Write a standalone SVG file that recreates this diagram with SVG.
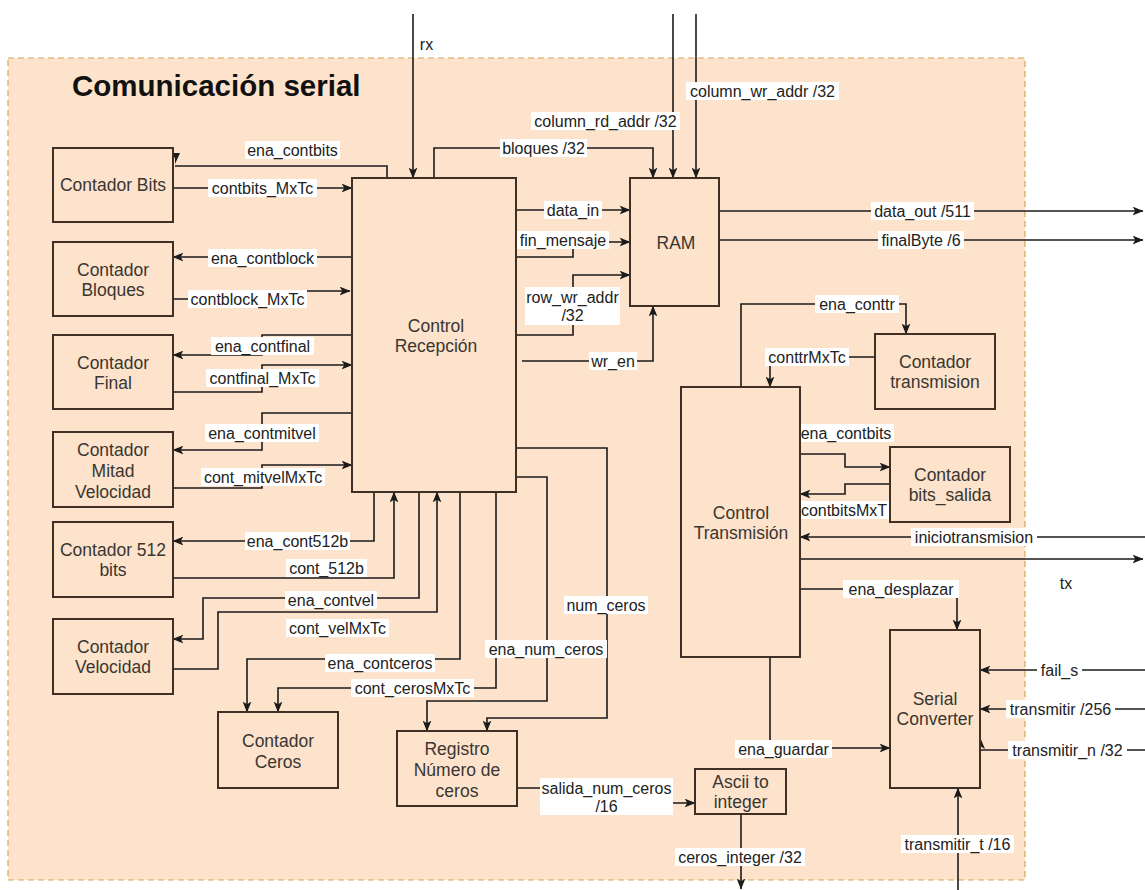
<svg xmlns="http://www.w3.org/2000/svg" width="1145" height="890" viewBox="0 0 1145 890">
  <style>
    .frame { fill: #fde3cb; stroke: #d4a75e; stroke-width: 1.2; stroke-dasharray: 6 4; }
    .title { font-family: "Liberation Sans", Arial, sans-serif; font-size: 29.5px; font-weight: bold; fill: #111; }
    .blk rect { fill: #fde3cb; stroke: #3f2f24; stroke-width: 2; }
    .blk text { font-family: "Liberation Sans", Arial, sans-serif; font-size: 17.5px; fill: #3a3632; text-anchor: middle; }
    .wire { fill: none; stroke: #1b1b1b; stroke-width: 1.6; }
    .arrow { marker-end: url(#ah); }
    .lbl rect { fill: #ffffff; }
    .lbl text { font-family: "Liberation Sans", Arial, sans-serif; font-size: 16px; fill: #222; text-anchor: middle; }
    .tip { fill: #1b1b1b; }
  </style>
  <defs>
    <marker id="ah" viewBox="0 0 10 8" refX="9.5" refY="4" markerWidth="11" markerHeight="9" markerUnits="userSpaceOnUse" orient="auto">
      <path d="M0,0 L10,4 L0,8 L2.5,4 z" fill="#1b1b1b"/>
    </marker>
  </defs>

  <rect width="1145" height="890" fill="#ffffff"/>

  <!-- subsystem frame -->
  <g id="frame">
    <rect class="frame" x="8" y="58" width="1017" height="822"/>
    <text class="title" x="72" y="96">Comunicación serial</text>
  </g>

  <!-- connectors -->
  <g id="connectors">
    <path class="wire arrow" d="M413,14 V178"/>
    <path class="wire arrow" d="M673,14 V178"/>
    <path class="wire arrow" d="M696,14 V178"/>
    <path class="wire arrow" d="M434,178 V148 H653 V178"/>
    <path class="wire arrow" d="M516,210 H630"/>
    <path class="wire arrow" d="M516,257 H573 V242 H630"/>
    <path class="wire arrow" d="M516,335 H573 V275 H630"/>
    <path class="wire arrow" d="M522,361 H653 V306"/>
    <path class="wire arrow" d="M719,211 H1143"/>
    <path class="wire arrow" d="M719,240 H1143"/>

    <path class="wire" d="M387,178 V166 H175"/>
    <polygon class="tip" points="170,153 180,153 175,164 175,158"/>
    <path class="wire arrow" d="M173,188 H352"/>
    <path class="wire arrow" d="M352,257 H173"/>
    <path class="wire arrow" d="M173,299 H300 V291 H350"/>
    <path class="wire arrow" d="M352,335 H262 V355 H173"/>
    <path class="wire arrow" d="M173,392 H262 V365 H352"/>
    <path class="wire arrow" d="M352,413 H262 V450 H173"/>
    <path class="wire arrow" d="M173,488 H262 V465 H352"/>
    <path class="wire arrow" d="M374,492 V541 H173"/>
    <path class="wire arrow" d="M173,578 H394 V492"/>
    <path class="wire arrow" d="M419,492 V598 H203 V639 H173"/>
    <path class="wire arrow" d="M173,669 H218 V612 H437 V492"/>
    <path class="wire arrow" d="M460,492 V659 H247 V712"/>
    <path class="wire arrow" d="M496,492 V688 H278 V712"/>
    <path class="wire arrow" d="M516,477 H547 V701 H427 V731"/>
    <path class="wire arrow" d="M516,448 H607 V718 H487 V731"/>
    <path class="wire arrow" d="M517,788 H600 V803 H695"/>
    <path class="wire arrow" d="M741,814 V889"/>

    <path class="wire arrow" d="M770,657 V748 H890"/>
    <path class="wire arrow" d="M800,589 H957 V630"/>
    <path class="wire arrow" d="M800,559 H1143"/>
    <path class="wire arrow" d="M1145,537 H800"/>
    <path class="wire arrow" d="M800,454 H845 V467 H890"/>
    <path class="wire arrow" d="M890,484 H845 V494 H800"/>
    <path class="wire arrow" d="M741,387 V304 H906 V334"/>
    <path class="wire arrow" d="M875,357 H770 V387"/>
    <path class="wire arrow" d="M1145,670 H980"/>
    <path class="wire arrow" d="M1145,709 H980"/>
    <path class="wire" d="M1145,750 H980"/>
    <polygon class="tip" points="980,737 985,749 980,746 975,749"/>
    <path class="wire arrow" d="M958,890 V788"/>
  </g>

  <!-- connector labels -->
  <g id="labels" class="lbl">
    <text x="426.5" y="50" style="text-anchor:middle">rx</text>
    <rect x="531" y="112" width="149" height="18"/><text x="605.5" y="127">column_rd_addr /32</text>
    <rect x="686" y="82" width="153" height="18"/><text x="762.5" y="97">column_wr_addr /32</text>
    <rect x="500" y="139" width="87" height="18"/><text x="543.5" y="154">bloques /32</text>
    <rect x="544" y="201" width="58" height="18"/><text x="573" y="216">data_in</text>
    <rect x="517" y="231" width="92" height="18"/><text x="563" y="246">fin_mensaje</text>
    <rect x="525" y="287" width="95" height="38"/><text x="572.5" y="303">row_wr_addr</text><text x="572.5" y="321">/32</text>
    <rect x="589" y="352" width="48" height="18"/><text x="613" y="367">wr_en</text>
    <rect x="871" y="202" width="103" height="18"/><text x="922.5" y="217">data_out /511</text>
    <rect x="878" y="231" width="86" height="18"/><text x="921" y="246">finalByte /6</text>

    <rect x="245" y="141" width="95" height="18"/><text x="292.5" y="156">ena_contbits</text>
    <rect x="208" y="179" width="109" height="18"/><text x="262.5" y="194">contbits_MxTc</text>
    <rect x="208" y="249" width="109" height="18"/><text x="262.5" y="264">ena_contblock</text>
    <rect x="188" y="290" width="119" height="18"/><text x="247.5" y="305">contblock_MxTc</text>
    <rect x="211" y="337" width="103" height="18"/><text x="262.5" y="352">ena_contfinal</text>
    <rect x="206" y="369" width="113" height="18"/><text x="262.5" y="384">contfinal_MxTc</text>
    <rect x="205" y="424" width="114" height="18"/><text x="262" y="439">ena_contmitvel</text>
    <rect x="201" y="468" width="124" height="18"/><text x="263" y="483">cont_mitvelMxTc</text>
    <rect x="245" y="532" width="105" height="18"/><text x="297.5" y="547">ena_cont512b</text>
    <rect x="286" y="559" width="81" height="18"/><text x="326.5" y="574">cont_512b</text>
    <rect x="285" y="591" width="92" height="18"/><text x="331" y="606">ena_contvel</text>
    <rect x="286" y="619" width="103" height="18"/><text x="337.5" y="634">cont_velMxTc</text>
    <rect x="325" y="654" width="110" height="18"/><text x="380" y="669">ena_contceros</text>
    <rect x="351" y="679" width="123" height="18"/><text x="412.5" y="694">cont_cerosMxTc</text>
    <rect x="485" y="640" width="122" height="18"/><text x="546" y="655">ena_num_ceros</text>
    <rect x="564" y="596" width="84" height="18"/><text x="606" y="611">num_ceros</text>
    <rect x="540" y="778" width="133" height="37"/><text x="606.5" y="794">salida_num_ceros</text><text x="606.5" y="812">/16</text>
    <rect x="675" y="848" width="130" height="18"/><text x="740" y="863">ceros_integer /32</text>
    <rect x="735" y="740" width="97" height="18"/><text x="783.5" y="755">ena_guardar</text>

    <rect x="815" y="295" width="84" height="18"/><text x="857" y="310">ena_conttr</text>
    <rect x="765" y="348" width="84" height="18"/><text x="807" y="363">conttrMxTc</text>
    <rect x="798" y="424" width="96" height="18"/><text x="846" y="439">ena_contbits</text>
    <rect x="798" y="501" width="92" height="18"/><text x="844" y="516">contbitsMxT</text>
    <rect x="911" y="528" width="126" height="18"/><text x="974" y="543">iniciotransmision</text>
    <text x="1066" y="589">tx</text>
    <rect x="843" y="580" width="116" height="18"/><text x="901" y="595">ena_desplazar</text>
    <rect x="1037" y="661" width="45" height="18"/><text x="1059.5" y="676">fail_s</text>
    <rect x="1006" y="700" width="109" height="18"/><text x="1060.5" y="715">transmitir /256</text>
    <rect x="1008" y="741" width="119" height="18"/><text x="1067.5" y="756">transmitir_n /32</text>
    <rect x="901" y="835" width="113" height="18"/><text x="957.5" y="850">transmitir_t /16</text>
  </g>

  <!-- blocks -->
  <g id="contador-bits" class="blk">
    <rect x="53" y="148" width="120" height="74"/>
    <text x="113" y="191">Contador Bits</text>
  </g>
  <g id="contador-bloques" class="blk">
    <rect x="53" y="242" width="120" height="74"/>
    <text x="113" y="276">Contador</text><text x="113" y="296">Bloques</text>
  </g>
  <g id="contador-final" class="blk">
    <rect x="53" y="335" width="120" height="74"/>
    <text x="113" y="369">Contador</text><text x="113" y="389">Final</text>
  </g>
  <g id="contador-mitad-velocidad" class="blk">
    <rect x="53" y="432" width="120" height="75"/>
    <text x="113" y="456">Contador</text><text x="113" y="477">Mitad</text><text x="113" y="498">Velocidad</text>
  </g>
  <g id="contador-512-bits" class="blk">
    <rect x="53" y="522" width="120" height="75"/>
    <text x="113" y="556">Contador 512</text><text x="113" y="576">bits</text>
  </g>
  <g id="contador-velocidad" class="blk">
    <rect x="53" y="619" width="120" height="75"/>
    <text x="113" y="653">Contador</text><text x="113" y="673">Velocidad</text>
  </g>
  <g id="contador-ceros" class="blk">
    <rect x="218" y="712" width="120" height="76"/>
    <text x="278" y="747">Contador</text><text x="278" y="768">Ceros</text>
  </g>
  <g id="control-recepcion" class="blk">
    <rect x="352" y="178" width="164" height="314"/>
    <text x="436" y="332">Control</text><text x="436" y="352">Recepción</text>
  </g>
  <g id="ram" class="blk">
    <rect x="630" y="178" width="89" height="128"/>
    <text x="676" y="249">RAM</text>
  </g>
  <g id="registro-numero-ceros" class="blk">
    <rect x="397" y="731" width="120" height="75"/>
    <text x="457" y="755">Registro</text><text x="457" y="776">Número de</text><text x="457" y="797">ceros</text>
  </g>
  <g id="ascii-to-integer" class="blk">
    <rect x="695" y="769" width="91" height="45"/>
    <text x="740.5" y="788">Ascii to</text><text x="740.5" y="808">integer</text>
  </g>
  <g id="contador-transmision" class="blk">
    <rect x="875" y="334" width="120" height="75"/>
    <text x="935" y="368">Contador</text><text x="935" y="388">transmision</text>
  </g>
  <g id="control-transmision" class="blk">
    <rect x="681" y="387" width="119" height="270"/>
    <text x="741" y="519">Control</text><text x="741" y="539">Transmisión</text>
  </g>
  <g id="contador-bits-salida" class="blk">
    <rect x="890" y="447" width="120" height="75"/>
    <text x="950" y="481">Contador</text><text x="950" y="501">bits_salida</text>
  </g>
  <g id="serial-converter" class="blk">
    <rect x="890" y="630" width="90" height="158"/>
    <text x="935" y="705">Serial</text><text x="935" y="725">Converter</text>
  </g>
</svg>
